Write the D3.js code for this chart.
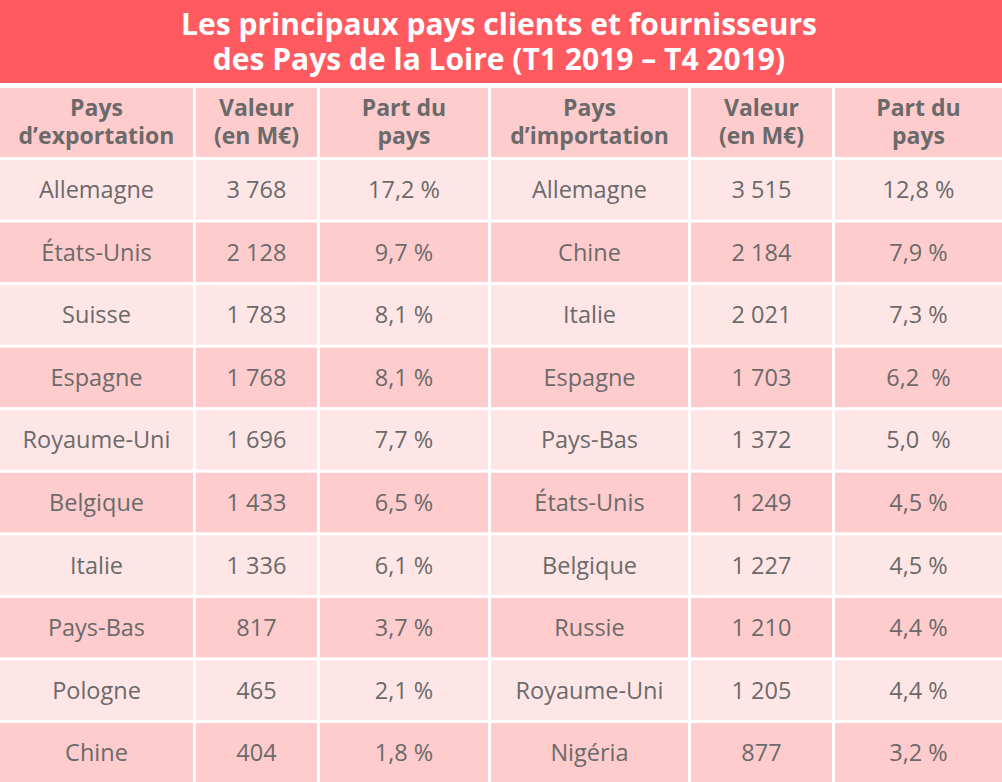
<!DOCTYPE html>
<html lang="fr">
<head>
<meta charset="utf-8">
<script src="https://cdn.jsdelivr.net/npm/d3@7"></script>
<style>
  html, body { margin: 0; padding: 0; background: #ffffff; }
  svg { display: block; }
</style>
</head>
<body>
<svg id="chart" width="1002" height="782"></svg>
<script>
// ---- Data ----
const titleLines = ["Les principaux pays clients et fournisseurs", "des Pays de la Loire (T1 2019 – T4 2019)"];
const headers = [
  ["Pays", "d’exportation"],
  ["Valeur", "(en M€)"],
  ["Part du", "pays"],
  ["Pays", "d’importation"],
  ["Valeur", "(en M€)"],
  ["Part du", "pays"]
];
const exportCountries = ["Allemagne", "États-Unis", "Suisse", "Espagne", "Royaume-Uni", "Belgique", "Italie", "Pays-Bas", "Pologne", "Chine"];
const exportValues = [3768, 2128, 1783, 1768, 1696, 1433, 1336, 817, 465, 404];
const exportShares = ["17,2 %", "9,7 %", "8,1 %", "8,1 %", "7,7 %", "6,5 %", "6,1 %", "3,7 %", "2,1 %", "1,8 %"];
const importCountries = ["Allemagne", "Chine", "Italie", "Espagne", "Pays-Bas", "États-Unis", "Belgique", "Russie", "Royaume-Uni", "Nigéria"];
const importValues = [3515, 2184, 2021, 1703, 1372, 1249, 1227, 1210, 1205, 877];
const importShares = ["12,8 %", "7,9 %", "7,3 %", "6,2  %", "5,0  %", "4,5 %", "4,5 %", "4,4 %", "4,4 %", "3,2 %"];

// ---- Layout ----
const W = 1002, H = 782;
const colEdges = [0, 194.5, 318.5, 489.5, 689.5, 833.5, 1002];
const gap = 3;
const fr = d3.formatLocale({decimal: ",", thousands: " ", grouping: [3], currency: ["", " €"]});
const fmt = fr.format(",d");

const svg = d3.select("#chart");
const FONT = "'Open Sans', 'Noto Sans', sans-serif";
const colors = {title: "#ff5a5f", header: "#ffcccd", odd: "#ffe6e6", even: "#ffcccd", text: "#6a6a6a"};

const y = d3.scaleBand().domain(d3.range(10)).range([160, 782.5]).paddingInner(0.048).paddingOuter(0);
const cl = i => i === 0 ? 0 : colEdges[i] + gap / 2;
const cr = i => i === 5 ? W : colEdges[i + 1] - gap / 2;

// Title
svg.append("rect").attr("x", 0).attr("y", 0).attr("width", W).attr("height", 83).attr("fill", colors.title);
svg.selectAll("text.title").data(titleLines).join("text")
  .attr("class", "title")
  .attr("x", W / 2 - 2)
  .attr("y", (d, i) => 35 + i * 35)
  .attr("text-anchor", "middle")
  .attr("font-family", FONT).attr("font-weight", 700).attr("font-size", 30)
  .attr("fill", "#ffffff")
  .text(d => d);

// Header
const hdr = svg.append("g");
headers.forEach((h, i) => {
  hdr.append("rect").attr("x", cl(i)).attr("y", 88).attr("width", cr(i) - cl(i)).attr("height", 69).attr("fill", colors.header);
  h.forEach((line, k) => {
    hdr.append("text")
      .attr("x", (cl(i) + cr(i)) / 2).attr("y", 116 + k * 28)
      .attr("text-anchor", "middle")
      .attr("font-family", FONT).attr("font-weight", 700).attr("font-size", 23)
      .attr("fill", colors.text)
      .text(line);
  });
});

// Body
const rows = d3.range(10).map(r => [
  exportCountries[r], fmt(exportValues[r]), exportShares[r],
  importCountries[r], fmt(importValues[r]), importShares[r]
]);
const rowG = svg.selectAll("g.row").data(rows).join("g").attr("class", "row")
  .attr("transform", (d, r) => `translate(0,${y(r)})`);
rowG.each(function(d, r) {
  const g = d3.select(this);
  d.forEach((v, i) => {
    g.append("rect").attr("x", cl(i)).attr("y", 0).attr("width", cr(i) - cl(i)).attr("height", y.bandwidth())
      .attr("fill", r % 2 === 0 ? colors.odd : colors.even);
    g.append("text").attr("x", (cl(i) + cr(i)) / 2).attr("y", y.bandwidth() / 2 + 8.5)
      .attr("text-anchor", "middle")
      .attr("font-family", FONT).attr("font-size", 23.5)
      .attr("fill", colors.text)
      .attr("xml:space", "preserve")
      .style("white-space", "pre")
      .text(v);
  });
});
</script>
</body>
</html>
